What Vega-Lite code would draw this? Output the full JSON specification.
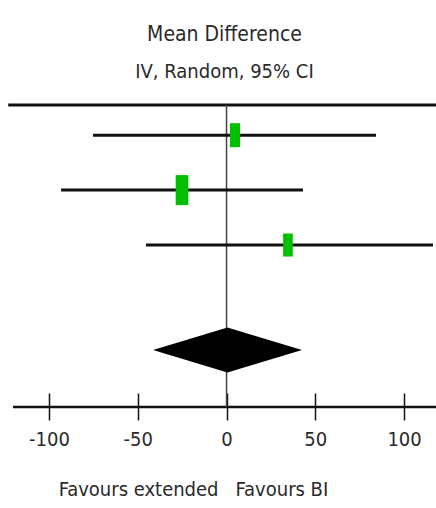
{
  "$schema": "https://vega.github.io/schema/vega-lite/v6.json",
  "width": 423,
  "height": 302,
  "autosize": {"type": "none"},
  "padding": {"left": 13, "top": 105, "right": 0, "bottom": 101},
  "background": "white",
  "title": {
    "text": "Mean Difference",
    "subtitle": "IV, Random, 95% CI",
    "anchor": "middle",
    "font": "DejaVu Sans Condensed, Liberation Sans",
    "fontSize": 21,
    "fontWeight": "normal",
    "color": "#2a2a2a",
    "subtitleFont": "DejaVu Sans Condensed, Liberation Sans",
    "subtitleFontSize": 20,
    "subtitleColor": "#2a2a2a",
    "subtitlePadding": 17,
    "offset": 22
  },
  "config": {"view": {"stroke": null}},
  "datasets": {
    "studies": [
      {"study": "Study 1", "row": 1, "md": 4.8, "lo": -75.2, "hi": 84.2, "weight": 28.7},
      {"study": "Study 2", "row": 2, "md": -25.1, "lo": -93.2, "hi": 43.1, "weight": 44.9},
      {"study": "Study 3", "row": 3, "md": 34.6, "lo": -45.4, "hi": 116.3, "weight": 26.4}
    ],
    "pooled": [
      {"x": -41.4, "ylo": 4.91, "yhi": 4.91},
      {"x": 0.5, "ylo": 4.5, "yhi": 5.32},
      {"x": 42.5, "ylo": 4.91, "yhi": 4.91}
    ],
    "favours": [
      {"side": "left", "label": "Favours extended"},
      {"side": "right", "label": "Favours BI"}
    ]
  },
  "encoding": {
    "x": {
      "type": "quantitative",
      "scale": {"domain": [-120.3, 118], "nice": false, "zero": false},
      "axis": {
        "values": [-100, -50, 0, 50, 100],
        "title": null,
        "domain": false,
        "grid": false,
        "offset": -14,
        "tickSize": 27,
        "tickColor": "#111",
        "tickWidth": 1.5,
        "labelExpr": "replace(datum.label, '\u2212', '-')",
        "labelFont": "DejaVu Sans Condensed, Liberation Sans",
        "labelFontSize": 20,
        "labelColor": "#2a2a2a",
        "labelPadding": 9,
        "labelFlush": false
      }
    },
    "y": {
      "type": "quantitative",
      "scale": {"domain": [0.45, 5.95], "reverse": true, "nice": false, "zero": false},
      "axis": null
    }
  },
  "layer": [
    {
      "data": {"values": [{}]},
      "mark": {"type": "rule", "strokeWidth": 3, "color": "#111", "clip": false},
      "encoding": {"x": {"datum": -123}, "x2": {"datum": 118}, "y": {"datum": 0.45}}
    },
    {
      "data": {"values": [{}]},
      "mark": {"type": "rule", "strokeWidth": 2.5, "color": "#111", "clip": false},
      "encoding": {"x": {"datum": -120.3}, "x2": {"datum": 118}, "y": {"datum": 5.95}}
    },
    {
      "data": {"values": [{}]},
      "mark": {"type": "rule", "strokeWidth": 1.5, "color": "#444"},
      "encoding": {"x": {"datum": 0}, "y": {"datum": 0.45}, "y2": {"datum": 5.95}}
    },
    {
      "data": {"name": "studies"},
      "mark": {"type": "rule", "strokeWidth": 3, "color": "#111"},
      "encoding": {
        "x": {"field": "lo"},
        "x2": {"field": "hi"},
        "y": {"field": "row"}
      }
    },
    {
      "data": {"name": "studies"},
      "mark": {
        "type": "point",
        "filled": true,
        "opacity": 1,
        "color": "#00c000",
        "strokeWidth": 0,
        "shape": "M-0.42,-1L0.42,-1L0.42,1L-0.42,1Z"
      },
      "encoding": {
        "x": {"field": "md"},
        "y": {"field": "row"},
        "size": {
          "field": "weight",
          "type": "quantitative",
          "scale": {"domain": [0, 100], "range": [0, 2005], "zero": true},
          "legend": null
        }
      }
    },
    {
      "data": {"name": "pooled"},
      "mark": {"type": "area", "orient": "vertical", "color": "#000", "opacity": 1},
      "encoding": {
        "x": {"field": "x"},
        "y": {"field": "ylo"},
        "y2": {"field": "yhi"}
      }
    },
    {
      "data": {"name": "favours"},
      "transform": [{"filter": "datum.side === 'left'"}],
      "mark": {
        "type": "text",
        "align": "right",
        "baseline": "alphabetic",
        "dx": -8,
        "clip": false,
        "font": "DejaVu Sans Condensed, Liberation Sans",
        "fontSize": 20,
        "color": "#2a2a2a"
      },
      "encoding": {"x": {"datum": 0}, "y": {"datum": 7.57}, "text": {"field": "label"}}
    },
    {
      "data": {"name": "favours"},
      "transform": [{"filter": "datum.side === 'right'"}],
      "mark": {
        "type": "text",
        "align": "left",
        "baseline": "alphabetic",
        "dx": 9,
        "clip": false,
        "font": "DejaVu Sans Condensed, Liberation Sans",
        "fontSize": 20,
        "color": "#2a2a2a"
      },
      "encoding": {"x": {"datum": 0}, "y": {"datum": 7.57}, "text": {"field": "label"}}
    }
  ]
}
